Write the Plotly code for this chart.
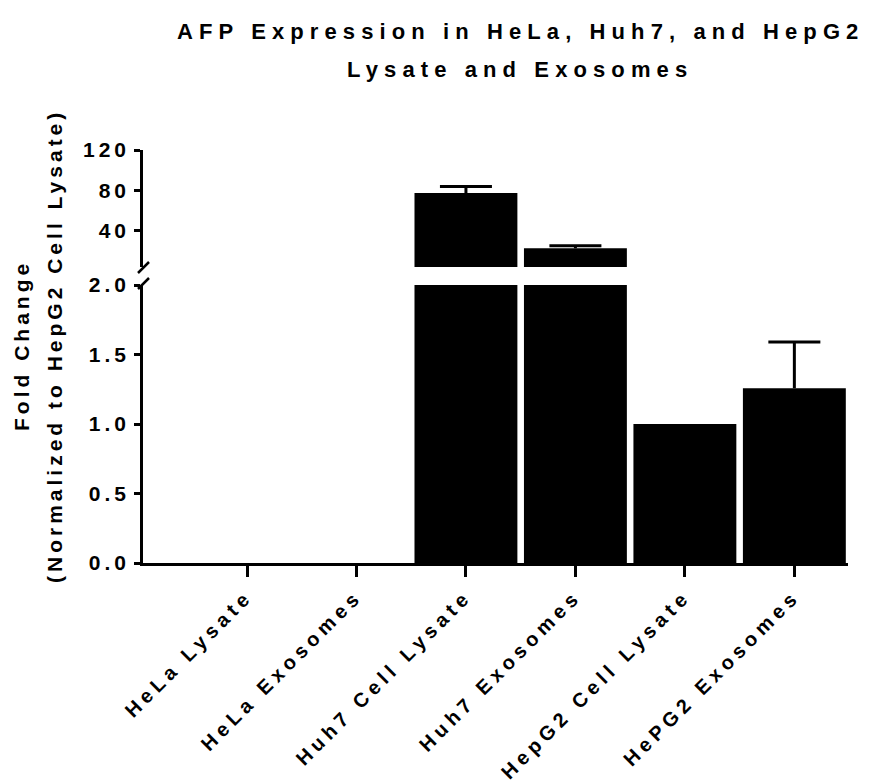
import plotly.graph_objects as go

# AFP fold change (normalized to HepG2 cell lysate)
categories = ["HeLa Lysate", "HeLa Exosomes", "Huh7 Cell Lysate",
              "Huh7 Exosomes", "HepG2 Cell Lysate", "HePG2 Exosomes"]
fold_change = [0.0, 0.0, 77.4, 22.8, 1.0, 1.257]
error_plus = [0.0, 0.0, 6.6, 2.6, 0.0, 0.333]

lower_ticks = [0.0, 0.5, 1.0, 1.5, 2.0]
upper_ticks = [40, 80, 120]

FONT = "Liberation Sans, Arial, Helvetica, sans-serif"
W, H = 888, 784
ML, MR, MT, MB = 143, 40, 150, 221
PW, PH = W - ML - MR, H - MT - MB


def py(px_y):
    """pixel row -> paper y"""
    return (H - MB - px_y) / PH


def px(px_x):
    """pixel column -> paper x"""
    return (px_x - ML) / PW


# upper end of each SEM bar (only where an error exists)
err_top = [v + e if e > 0 else None for v, e in zip(fold_change, error_plus)]
err_zero = [0.0] * len(categories)

fig = go.Figure()
for yax in ("y", "y2"):
    fig.add_trace(go.Bar(
        x=categories, y=fold_change, xaxis="x", yaxis=yax, width=0.94,
        marker=dict(color="black", line=dict(width=0)),
        showlegend=False, hoverinfo="x+y",
    ))
    # error stem: from bar top upwards, no caps
    fig.add_trace(go.Scatter(
        x=categories, y=fold_change, xaxis="x", yaxis=yax, mode="markers",
        marker=dict(size=1, opacity=0),
        error_y=dict(type="data", symmetric=False, array=error_plus,
                     arrayminus=err_zero, color="black", thickness=3, width=0),
        showlegend=False, hoverinfo="skip",
    ))
    # error cap at the top of the stem
    fig.add_trace(go.Scatter(
        x=categories, y=err_top, xaxis="x", yaxis=yax, mode="markers",
        marker=dict(size=1, opacity=0),
        error_y=dict(type="data", array=err_zero, color="black",
                     thickness=3, width=26),
        showlegend=False, hoverinfo="skip",
    ))

axis_common = dict(
    showline=True, linecolor="black", linewidth=2.5,
    ticks="outside", tickcolor="black", tickwidth=2.5,
    showgrid=False, zeroline=False,
)
tick_font_y = dict(family=FONT, size=21, color="black", weight=700)
tick_font_x = dict(family=FONT, size=20, color="black", weight=700)

fig.update_layout(
    width=W, height=H,
    margin=dict(l=ML, r=MR, t=MT, b=MB, autoexpand=False),
    paper_bgcolor="white", plot_bgcolor="white",
    xaxis=dict(
        **axis_common, tickfont=tick_font_x,
        type="category", range=[-0.95, 5.49], ticklen=11, tickangle=-45,
        anchor="y",
    ),
    yaxis=dict(
        **axis_common, tickfont=tick_font_y, domain=[0, py(285)],
        range=[0, 2.0], tickvals=lower_ticks, tickformat=".1f", ticklen=6,
        anchor="x",
    ),
    yaxis2=dict(
        **axis_common, tickfont=tick_font_y, domain=[py(267), 1],
        range=[4.3, 120], tickvals=upper_ticks, ticklen=6, anchor="x",
    ),
)

title_font = dict(family=FONT, size=22, color="black", weight=700)
ytitle_font = dict(family=FONT, size=21, color="black", weight=700)

# two-line title
fig.add_annotation(text="AFP Expression in HeLa, Huh7, and HepG2",
                   xref="paper", yref="paper", x=px(520), y=py(31),
                   xanchor="center", yanchor="middle", showarrow=False,
                   font=title_font)
fig.add_annotation(text="Lysate and Exosomes",
                   xref="paper", yref="paper", x=px(520), y=py(70),
                   xanchor="center", yanchor="middle", showarrow=False,
                   font=title_font)

# two-line y-axis title
fig.add_annotation(text="Fold Change", textangle=-90,
                   xref="paper", yref="paper", x=px(21), y=py(346),
                   xanchor="center", yanchor="middle", showarrow=False,
                   font=ytitle_font)
fig.add_annotation(text="(Normalized to HepG2 Cell Lysate)", textangle=-90,
                   xref="paper", yref="paper", x=px(54), y=py(346),
                   xanchor="center", yanchor="middle", showarrow=False,
                   font=ytitle_font)

# axis break marks
for y0, y1 in [(273, 262), (289, 278)]:
    fig.add_shape(type="line", xref="paper", yref="paper",
                  x0=px(138), x1=px(149), y0=py(y0), y1=py(y1),
                  line=dict(color="black", width=2.5))

# widen letter spacing of the rendered texts
post = """
var gd = document.getElementById('{plot_id}');
function spaceText(){
  gd.querySelectorAll('.xtick text').forEach(function(t){ t.style.letterSpacing='4.9px'; });
  gd.querySelectorAll('.ytick text, .y2tick text').forEach(function(t){ t.style.letterSpacing='4px'; });
  gd.querySelectorAll('g.annotation').forEach(function(g){
    var i = +g.getAttribute('data-index');
    var t = g.querySelector('text');
    if (t) t.style.letterSpacing = (i < 2 ? '6.1px' : '4px');
  });
}
spaceText();
gd.on('plotly_afterplot', spaceText);
"""

fig.write_html("out.html", post_script=post)
